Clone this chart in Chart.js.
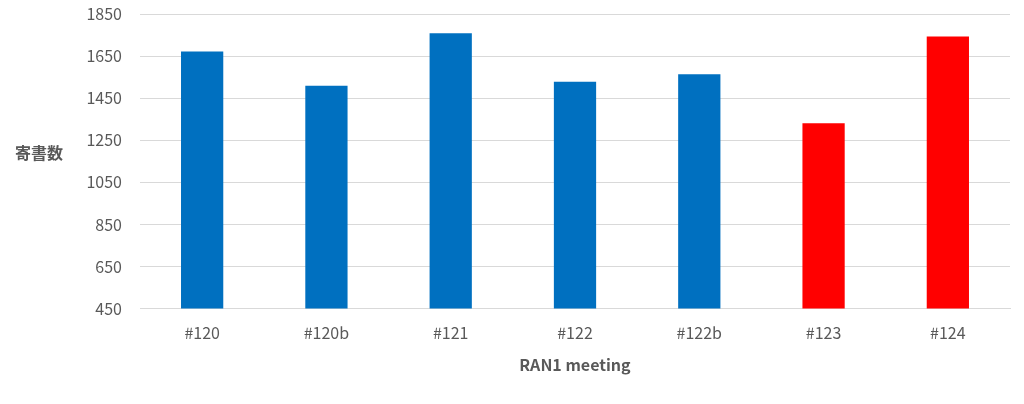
<!DOCTYPE html>
<html>
<head>
<meta charset="utf-8">
<script src="https://cdn.jsdelivr.net/npm/chart.js@4/dist/chart.umd.min.js"></script>
<style>
  html, body { margin: 0; padding: 0; background: #fff; }
  #wrap { width: 1024px; height: 404px; }
</style>
</head>
<body>
<div id="wrap"><canvas id="c" width="1024" height="404"></canvas></div>
<script>
const meetings = ['#120', '#120b', '#121', '#122', '#122b', '#123', '#124'];
const contributions = [1672, 1509, 1759, 1528, 1564, 1331, 1743];
const barColors = ['#0070C0', '#0070C0', '#0070C0', '#0070C0', '#0070C0', '#FF0000', '#FF0000'];
const yMin = 450, yMax = 1850, yStep = 200;

const fontFamily = '"Noto Sans CJK JP", "Noto Sans", sans-serif';

// y title is horizontal in the original, so draw it by hand
const yTitle = {
  id: 'yTitle',
  afterDraw(chart) {
    const ctx = chart.ctx;
    const area = chart.chartArea;
    ctx.save();
    ctx.font = 'bold 16px ' + fontFamily;
    ctx.fillStyle = '#595959';
    ctx.textAlign = 'left';
    ctx.textBaseline = 'middle';
    ctx.fillText('寄書数', 15, area.top + (area.bottom - area.top) * 0.473);
    ctx.restore();
  }
};

new Chart(document.getElementById('c'), {
  type: 'bar',
  data: {
    labels: meetings,
    datasets: [{
      data: contributions,
      backgroundColor: barColors,
      borderWidth: 0,
      categoryPercentage: 1,
      barPercentage: 0.34
    }]
  },
  options: {
    responsive: false,
    animation: false,
    layout: { padding: { left: 0, right: 14, top: 14, bottom: 25 } },
    plugins: { legend: { display: false }, tooltip: { enabled: false } },
    scales: {
      x: {
        grid: { display: false },
        border: { color: '#d9d9d9', width: 1 },
        ticks: { color: '#595959', font: { family: fontFamily, size: 16 }, padding: 7 },
        title: {
          display: true,
          text: 'RAN1 meeting',
          color: '#595959',
          font: { family: fontFamily, size: 16, weight: 'bold' },
          padding: { top: 6 }
        }
      },
      y: {
        min: yMin,
        max: yMax,
        afterFit(scale) {
          scale.width = 140;
          scale.paddingTop = 0;
          scale.paddingBottom = 0;
        },
        grid: { color: '#d9d9d9', drawTicks: false },
        border: { display: false },
        ticks: {
          stepSize: yStep,
          color: '#595959',
          font: { family: fontFamily, size: 16 },
          padding: 18,
          callback: v => String(v)
        }
      }
    }
  },
  plugins: [yTitle]
});
</script>
</body>
</html>
